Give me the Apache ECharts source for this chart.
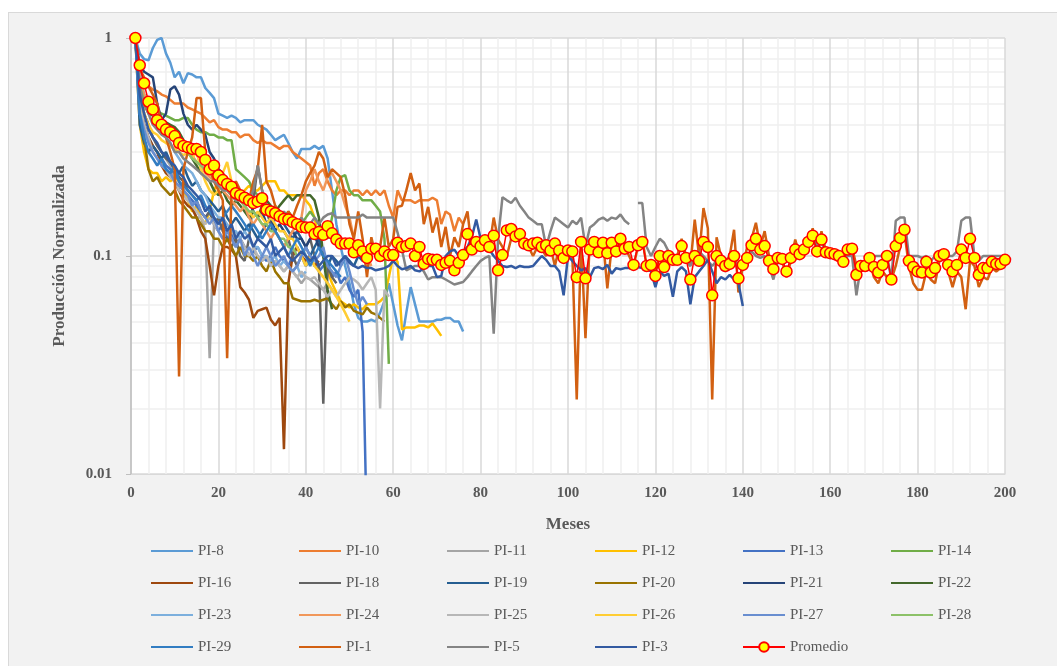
<!DOCTYPE html>
<html>
<head>
<meta charset="utf-8">
<title>Producción Normalizada</title>
<script src="https://cdn.jsdelivr.net/npm/echarts@6/dist/echarts.min.js"></script>
<style>
  html, body { margin: 0; padding: 0; background: #fff; }
  #chart {
    position: absolute; left: 8px; top: 12px;
    width: 1048px; height: 653px;
    background: #f2f2f2;
    border-left: 1px solid #d9d9d9; border-top: 1px solid #d9d9d9;
  }
</style>
</head>
<body>
<div id="chart"></div>
<script>
// normalized production per month (index 0 = month 1)
const pi8 = [1,0.85,0.8,0.79,0.9,0.98,1.0,0.85,0.77,0.66,0.7,0.62,0.69,0.68,0.66,0.66,0.59,0.56,0.53,0.45,0.44,0.43,0.44,0.43,0.41,0.42,0.42,0.42,0.4,0.39,0.38,0.36,0.34,0.35,0.36,0.33,0.3,0.28,0.31,0.31,0.31,0.32,0.31,0.32,0.28,0.2,0.14,0.11,0.09,0.075,0.06,0.052,0.05,0.05,0.051,0.05,0.055,0.062,0.075,0.06,0.048,0.041,0.055,0.072,0.06,0.05,0.05,0.05,0.05,0.051,0.051,0.052,0.052,0.05,0.05,0.045]
const pi10 = [1,0.7,0.62,0.6,0.58,0.57,0.55,0.54,0.52,0.5,0.5,0.5,0.48,0.47,0.46,0.45,0.43,0.41,0.42,0.39,0.38,0.38,0.37,0.37,0.35,0.36,0.36,0.34,0.33,0.34,0.33,0.33,0.32,0.31,0.32,0.32,0.3,0.29,0.28,0.27,0.26,0.21,0.24,0.25,0.22,0.2,0.19,0.2,0.2,0.19,0.2,0.2,0.19,0.2,0.19,0.2,0.19,0.2,0.17,0.15,0.2,0.18,0.18,0.18,0.175,0.18,0.18,0.18,0.185,0.18,0.14,0.16,0.155,0.13,0.15,0.14]
const pi11 = [1,0.55,0.45,0.4,0.35,0.33,0.3,0.28,0.26,0.22,0.2,0.19,0.18,0.17,0.15,0.15,0.13,0.034,0.14,0.13,0.12,0.12,0.13,0.115,0.12,0.11,0.1,0.105,0.1,0.095,0.1,0.09,0.095,0.09,0.085,0.09,0.085,0.08,0.075,0.08,0.078,0.075,0.072,0.07,0.075,0.07]
const pi12 = [1,0.4,0.3,0.25,0.24,0.24,0.22,0.23,0.22,0.23,0.22,0.2,0.18,0.16,0.17,0.15,0.14,0.16,0.2,0.22,0.21,0.2,0.19,0.2,0.19,0.2,0.21,0.2,0.2,0.21,0.22,0.22,0.22,0.2,0.2,0.19,0.19,0.19,0.19,0.18,0.17,0.15,0.12,0.1,0.085,0.075,0.068,0.062,0.06,0.058,0.06,0.058,0.057,0.06,0.06,0.06,0.062,0.065,0.08,0.1,0.094,0.046,0.047,0.047,0.047,0.048,0.048,0.047,0.049,0.046,0.043]
const pi13 = [1,0.5,0.4,0.35,0.32,0.3,0.28,0.26,0.25,0.24,0.22,0.2,0.19,0.18,0.17,0.16,0.15,0.16,0.14,0.13,0.14,0.12,0.125,0.11,0.12,0.11,0.1,0.105,0.11,0.1,0.095,0.1,0.11,0.1,0.095,0.09,0.1,0.11,0.1,0.09,0.095,0.1,0.085,0.09,0.095,0.08,0.085,0.075,0.08,0.07,0.065,0.07,0.045,0.005]
const pi14 = [1,0.57,0.55,0.5,0.48,0.46,0.45,0.44,0.43,0.42,0.42,0.43,0.43,0.4,0.38,0.37,0.37,0.36,0.36,0.35,0.35,0.34,0.34,0.25,0.24,0.23,0.22,0.2,0.19,0.18,0.17,0.16,0.17,0.15,0.15,0.16,0.15,0.14,0.14,0.15,0.16,0.15,0.14,0.13,0.12,0.15,0.2,0.23,0.235,0.2,0.19,0.19,0.18,0.18,0.18,0.17,0.16,0.12,0.032]
const pi16 = [1,0.5,0.4,0.35,0.32,0.3,0.26,0.24,0.23,0.22,0.2,0.18,0.17,0.165,0.15,0.13,0.12,0.09,0.066,0.09,0.11,0.11,0.107,0.1,0.072,0.068,0.063,0.052,0.056,0.057,0.058,0.051,0.048,0.052,0.013,0.075,0.1,0.11,0.1,0.095,0.1,0.09,0.095]
const pi18 = [1,0.6,0.45,0.4,0.35,0.32,0.3,0.28,0.27,0.25,0.23,0.22,0.2,0.19,0.18,0.16,0.15,0.16,0.14,0.15,0.13,0.12,0.11,0.12,0.1,0.095,0.12,0.18,0.26,0.2,0.16,0.14,0.13,0.12,0.11,0.12,0.1,0.09,0.1,0.11,0.12,0.1,0.09,0.021,0.09,0.08,0.075]
const pi19 = [1,0.4,0.33,0.3,0.32,0.3,0.28,0.3,0.27,0.25,0.24,0.26,0.23,0.21,0.22,0.2,0.19,0.18,0.17,0.16,0.17,0.15,0.14,0.15,0.14,0.13,0.14,0.13,0.12,0.13,0.14,0.13,0.15,0.16,0.14,0.13,0.12,0.13,0.12,0.11,0.1,0.11,0.12,0.1,0.09,0.1,0.095,0.09,0.1,0.095,0.09,0.1,0.095,0.11,0.1]
const pi20 = [1,0.5,0.35,0.25,0.22,0.23,0.21,0.2,0.19,0.2,0.18,0.17,0.16,0.15,0.15,0.14,0.13,0.13,0.12,0.12,0.11,0.12,0.11,0.1,0.11,0.1,0.1,0.095,0.1,0.09,0.085,0.096,0.085,0.08,0.075,0.075,0.064,0.063,0.062,0.062,0.062,0.063,0.062,0.063,0.064,0.06,0.057,0.062,0.058,0.06,0.056,0.055,0.054,0.058,0.055,0.054,0.052,0.05]
const pi21 = [1,0.75,0.7,0.68,0.66,0.5,0.42,0.45,0.58,0.6,0.55,0.45,0.4,0.38,0.4,0.38,0.36,0.3,0.28,0.25,0.24,0.22,0.2,0.19,0.18,0.17,0.18,0.16,0.15,0.16,0.14,0.15,0.13,0.14,0.13,0.12,0.13,0.12,0.12,0.11,0.12,0.125,0.11,0.1]
const pi22 = [1,0.6,0.5,0.45,0.44,0.43,0.42,0.41,0.4,0.39,0.37,0.34,0.3,0.28,0.26,0.24,0.23,0.22,0.2,0.19,0.2,0.18,0.17,0.18,0.17,0.16,0.15,0.16,0.15,0.17,0.18,0.17,0.16,0.17,0.18,0.19,0.18,0.19,0.19,0.19,0.19,0.18,0.15,0.1,0.07,0.057]
const pi23 = [1,0.7,0.55,0.48,0.45,0.42,0.38,0.35,0.33,0.3,0.28,0.26,0.25,0.24,0.22,0.2,0.19,0.17,0.16,0.15,0.15,0.14,0.13,0.13,0.12,0.13,0.12,0.11,0.11,0.1,0.1,0.095,0.1,0.09,0.095,0.09,0.085,0.09,0.08,0.085]
const pi24 = [1,0.65,0.55,0.5,0.45,0.42,0.4,0.38,0.36,0.35,0.33,0.32,0.3,0.29,0.27,0.26,0.24,0.23,0.22,0.21,0.2,0.19,0.18,0.17,0.16,0.17,0.15,0.14,0.15,0.14,0.13,0.12,0.13,0.12,0.11,0.12,0.13,0.14,0.15,0.2,0.22,0.25,0.22,0.2,0.23,0.24,0.22,0.2,0.17,0.15,0.12,0.1,0.11,0.1,0.09]
const pi25 = [1,0.5,0.4,0.35,0.3,0.28,0.26,0.25,0.23,0.22,0.2,0.19,0.18,0.17,0.16,0.15,0.14,0.15,0.14,0.13,0.12,0.13,0.12,0.11,0.12,0.11,0.1,0.11,0.1,0.095,0.1,0.09,0.095,0.09,0.085,0.09,0.085,0.08,0.085,0.08,0.078,0.08,0.075,0.07,0.065,0.07,0.065,0.07,0.075,0.08,0.078,0.075,0.07,0.075,0.08,0.07,0.02,0.07,0.065]
const pi26 = [1,0.6,0.45,0.4,0.37,0.36,0.34,0.33,0.32,0.31,0.3,0.29,0.3,0.28,0.3,0.25,0.22,0.2,0.19,0.2,0.24,0.27,0.22,0.2,0.18,0.17,0.16,0.15,0.16,0.15,0.14,0.15,0.14,0.13,0.13,0.12,0.12,0.11,0.1,0.09,0.1,0.09,0.085,0.08,0.075,0.07,0.065,0.06,0.055,0.05]
const pi27 = [1,0.45,0.38,0.33,0.3,0.28,0.26,0.25,0.24,0.22,0.21,0.2,0.19,0.17,0.18,0.16,0.15,0.14,0.15,0.13,0.12,0.13,0.12,0.11,0.12,0.1,0.11,0.1,0.09,0.1,0.11,0.1,0.09,0.095,0.1,0.09,0.085,0.09,0.1,0.11,0.1,0.095,0.1,0.11,0.09,0.085,0.08,0.09,0.1,0.085,0.07,0.06,0.065,0.06]
const pi28 = [1,0.6,0.52,0.48,0.45,0.42,0.4,0.38,0.36,0.34,0.32,0.31,0.3,0.28,0.27,0.26,0.25,0.24,0.23,0.22,0.21,0.2,0.19,0.18,0.18,0.17,0.16,0.16,0.15,0.14,0.14,0.13,0.13,0.12,0.12,0.11,0.11,0.1]
const pi29 = [1,0.45,0.35,0.3,0.28,0.26,0.28,0.25,0.24,0.26,0.22,0.21,0.2,0.19,0.18,0.19,0.17,0.16,0.15,0.14,0.15,0.16,0.17,0.16,0.15,0.14,0.13,0.14,0.13,0.12,0.13,0.14,0.13,0.12,0.11,0.1,0.11,0.12,0.11,0.1,0.09,0.1,0.11,0.1,0.095,0.09,0.085,0.08]
const pi1 = [1,0.72,0.66,0.6,0.55,0.5,0.4,0.35,0.3,0.25,0.028,0.25,0.3,0.35,0.53,0.53,0.3,0.25,0.22,0.2,0.18,0.034,0.2,0.22,0.2,0.19,0.18,0.22,0.25,0.4,0.22,0.2,0.17,0.15,0.14,0.16,0.15,0.17,0.19,0.22,0.24,0.26,0.3,0.28,0.23,0.25,0.24,0.23,0.19,0.14,
  0.12,0.16,0.12,0.08,0.122,0.1,0.11,0.15,0.11,0.12,0.168,0.17,0.2,0.24,0.2,0.215,0.14,0.168,0.128,0.15,0.11,0.136,0.1,0.122,0.11,0.14,0.16,0.107,0.11,0.115,0.12,0.11,0.15,0.119,0.11,0.1,0.12,0.125,0.115,0.115,0.11,0.1,0.11,0.107,0.1,0.11,0.09,0.11,0.1,0.11,
  0.1,0.022,0.12,0.042,0.12,0.11,0.1,0.12,0.071,0.11,0.1,0.12,0.11,0.1,0.09,0.11,0.12,0.09,0.09,0.085,0.1,0.09,0.1,0.095,0.1,0.12,0.1,0.09,0.147,0.1,0.166,0.134,0.022,0.122,0.1,0.095,0.1,0.132,0.068,0.09,0.11,0.12,0.142,0.11,0.13,0.1,0.086,0.1,0.095,0.08,
  0.095,0.119,0.1,0.11,0.115,0.134,0.1,0.13,0.105,0.103,0.102,0.1,0.092,0.11,0.11,0.09,0.09,0.088,0.095,0.08,0.075,0.085,0.08,0.078,0.09,0.11,0.128,0.09,0.075,0.07,0.07,0.085,0.078,0.075,0.095,0.1,0.085,0.072,0.085,0.08,0.057,0.095,0.09,0.072,0.08,0.078,0.088,0.085,0.088,0.093]
const pi5 = [1,0.6,0.5,0.45,0.4,0.38,0.36,0.35,0.33,0.3,0.3,0.28,0.27,0.26,0.25,0.24,0.23,0.22,0.22,0.21,0.2,0.2,0.19,0.18,0.18,0.19,0.18,0.2,0.26,0.2,0.17,0.16,0.16,0.15,0.16,0.15,0.15,0.14,0.15,0.14,0.14,0.15,0.14,0.15,0.155,0.157,0.15,0.15,0.15,0.15,
  0.15,0.15,0.155,0.15,0.15,0.15,0.15,0.15,0.15,0.15,0.128,0.107,0.086,0.088,0.09,0.09,0.085,0.078,0.08,0.08,0.08,0.078,0.076,0.074,0.075,0.076,0.08,0.085,0.09,0.095,0.098,0.1,0.044,0.12,0.186,0.18,0.175,0.185,0.17,0.16,0.15,0.145,0.14,0.14,0.11,0.13,0.15,0.145,0.14,0.135,
  0.145,0.14,0.15,0.11,0.135,0.14,0.147,0.15,0.145,0.15,0.148,0.155,0.145,0.14,null,0.175,0.175,0.11,0.1,0.11,0.12,0.115,0.105,0.1,0.095,0.1,0.095,0.09,0.1,0.105,0.1,0.095,0.09,0.095,0.09,0.085,0.09,0.095,0.09,0.095,0.1,0.105,0.1,0.098,0.1,0.09,0.078,0.095,0.1,0.095,
  0.1,0.1,0.105,0.11,0.12,0.13,0.11,0.115,0.105,0.103,0.102,0.1,0.097,0.1,0.1,0.066,0.09,0.092,0.1,0.1,0.1,0.1,0.1,0.078,0.145,0.15,0.15,0.1,0.1,0.1,0.098,0.1,0.095,0.1,0.1,0.1,0.1,0.1,0.105,0.145,0.15,0.15,0.1,0.095,0.1,0.1,0.1,0.1,0.1,0.1]
const pi3 = [1,0.55,0.45,0.38,0.35,0.33,0.3,0.29,0.27,0.26,0.24,0.23,0.21,0.2,0.19,0.18,0.16,0.17,0.15,0.14,0.15,0.13,0.14,0.12,0.13,0.12,0.125,0.11,0.12,0.115,0.11,0.12,0.1,0.105,0.11,0.1,0.095,0.1,0.105,0.1,0.095,0.1,0.09,0.095,0.1,0.1,0.09,0.095,0.1,0.093,
  0.09,0.088,0.09,0.088,0.088,0.086,0.087,0.088,0.09,0.095,0.09,0.087,0.088,0.09,0.086,0.085,0.088,0.09,0.09,0.08,0.081,0.1,0.105,0.107,0.1,0.105,0.11,0.122,0.147,0.12,0.11,0.107,0.1,0.095,0.09,0.089,0.09,0.088,0.09,0.089,0.089,0.09,0.095,0.1,0.096,0.09,0.09,0.085,0.066,0.1,
  0.095,0.09,0.086,0.088,0.08,0.088,0.089,0.087,0.091,0.083,0.088,0.087,0.088,0.088,0.087,0.089,0.088,0.087,0.085,0.072,0.085,0.081,0.083,0.065,0.085,0.089,0.085,0.06,0.08,0.085,0.09,0.096,0.085,0.075,0.08,0.078,0.082,0.078,0.075,0.059]
const promedio = [1,0.75,0.62,0.51,0.47,0.42,0.4,0.38,0.37,0.355,0.33,0.32,0.315,0.31,0.31,0.3,0.276,0.25,0.26,0.234,0.223,0.214,0.208,0.194,0.19,0.185,0.18,0.175,0.178,0.184,0.163,0.16,0.157,0.152,0.148,0.147,0.143,0.14,0.136,0.135,0.135,0.126,0.129,0.125,0.137,0.127,0.119,0.114,0.114,0.114,
  0.104,0.112,0.105,0.098,0.108,0.108,0.1,0.105,0.101,0.101,0.115,0.11,0.111,0.114,0.1,0.11,0.092,0.097,0.096,0.096,0.091,0.093,0.095,0.086,0.093,0.101,0.126,0.107,0.116,0.111,0.118,0.11,0.124,0.086,0.101,0.131,0.133,0.123,0.126,0.114,0.112,0.114,0.115,0.11,0.112,0.106,0.114,0.106,0.098,0.106,
  0.105,0.08,0.116,0.079,0.107,0.116,0.104,0.115,0.103,0.115,0.105,0.12,0.108,0.11,0.091,0.112,0.116,0.09,0.091,0.081,0.1,0.089,0.1,0.096,0.096,0.111,0.098,0.078,0.1,0.095,0.116,0.11,0.066,0.1,0.095,0.09,0.092,0.1,0.079,0.091,0.098,0.112,0.12,0.107,0.111,0.095,0.087,0.098,0.097,0.085,
  0.098,0.107,0.102,0.107,0.116,0.124,0.105,0.119,0.104,0.103,0.102,0.1,0.094,0.107,0.108,0.082,0.09,0.09,0.098,0.089,0.084,0.091,0.1,0.078,0.111,0.121,0.132,0.095,0.089,0.085,0.084,0.094,0.084,0.088,0.1,0.102,0.091,0.085,0.091,0.107,0.098,0.12,0.098,0.082,0.088,0.088,0.094,0.092,0.092,0.096]

const wellNames = ['PI-8','PI-10','PI-11','PI-12','PI-13','PI-14','PI-16','PI-18','PI-19','PI-20','PI-21','PI-22','PI-23','PI-24','PI-25','PI-26','PI-27','PI-28','PI-29','PI-1','PI-5','PI-3']
const wellValues = [pi8,pi10,pi11,pi12,pi13,pi14,pi16,pi18,pi19,pi20,pi21,pi22,pi23,pi24,pi25,pi26,pi27,pi28,pi29,pi1,pi5,pi3]
const wellColors = ['#5B9BD5','#ED7D31','#A5A5A5','#FFC000','#4472C4','#70AD47','#9E480E','#636363','#255E91','#997300','#264478','#43682B','#7CAFDD','#F1975A','#B7B7B7','#FFCD33','#698ED0','#8CC168','#327DC2','#D26012','#848484','#335AA1']

const serif = "'Liberation Serif', 'Times New Roman', serif"
const toPairs = arr => arr.map((v, i) => [i + 1, v == null ? '-' : v])

const series = wellNames.map((name, k) => ({
  name: name,
  type: 'line',
  data: toPairs(wellValues[k]),
  symbol: 'none',
  color: wellColors[k],
  lineStyle: { width: 2.5, color: wellColors[k] },
  connectNulls: false,
  animation: false
}))
series.push({
  name: 'Promedio',
  type: 'line',
  data: toPairs(promedio),
  symbol: 'circle',
  symbolSize: 11,
  color: '#FF0000',
  lineStyle: { width: 1.5, color: '#FF0000' },
  itemStyle: { color: '#FFFF00', borderColor: '#FF0000', borderWidth: 1.5 },
  z: 5,
  animation: false
})

// wells: plain line in the legend, no marker
const legendData = wellNames.map(n => ({ name: n, itemStyle: { opacity: 0 } }))
legendData.push({ name: 'Promedio' })

const chart = echarts.init(document.getElementById('chart'))
chart.setOption({
  backgroundColor: '#f2f2f2',
  textStyle: { fontFamily: serif },
  grid: {
    left: 122, right: 52, top: 25, bottom: 192,
    show: true, backgroundColor: '#ffffff', borderWidth: 0
  },
  legend: {
    data: legendData,
    left: 136, top: 524, width: 890,
    itemWidth: 42, itemHeight: 12, itemGap: 14,
    textStyle: { fontFamily: serif, fontSize: 15, color: '#595959', width: 86, lineHeight: 18 }
  },
  xAxis: {
    type: 'value', min: 0, max: 200, interval: 20,
    name: 'Meses', nameLocation: 'middle', nameGap: 42,
    nameTextStyle: { fontFamily: serif, fontSize: 17, fontWeight: 'bold', color: '#595959' },
    axisLine: { show: true, lineStyle: { color: '#d9d9d9', width: 1 } },
    axisTick: { show: false },
    axisLabel: { fontFamily: serif, fontSize: 15, fontWeight: 'bold', color: '#595959', margin: 12 },
    splitLine: { show: true, lineStyle: { color: '#d9d9d9', width: 1.5 } },
    minorTick: { show: false, splitNumber: 5 },
    minorSplitLine: { show: true, lineStyle: { color: '#efefef', width: 1.5 } }
  },
  yAxis: {
    type: 'log', logBase: 10, min: 0.01, max: 1,
    name: 'Producción Normalizada', nameLocation: 'middle', nameGap: 63, nameRotate: 90,
    nameTextStyle: { fontFamily: serif, fontSize: 17, fontWeight: 'bold', color: '#595959' },
    axisLine: { show: true, lineStyle: { color: '#bfbfbf', width: 1.5 } },
    axisTick: { show: true, length: 5, lineStyle: { color: '#bfbfbf' } },
    axisLabel: {
      fontFamily: serif, fontSize: 15, fontWeight: 'bold', color: '#595959', margin: 19,
      formatter: v => String(+v.toPrecision(2))
    },
    splitLine: { show: true, lineStyle: { color: '#d9d9d9', width: 1.5 } },
    minorTick: { show: false, splitNumber: 9 },
    minorSplitLine: { show: true, lineStyle: { color: '#efefef', width: 1.5 } }
  },
  series: series
})
</script>
</body>
</html>
